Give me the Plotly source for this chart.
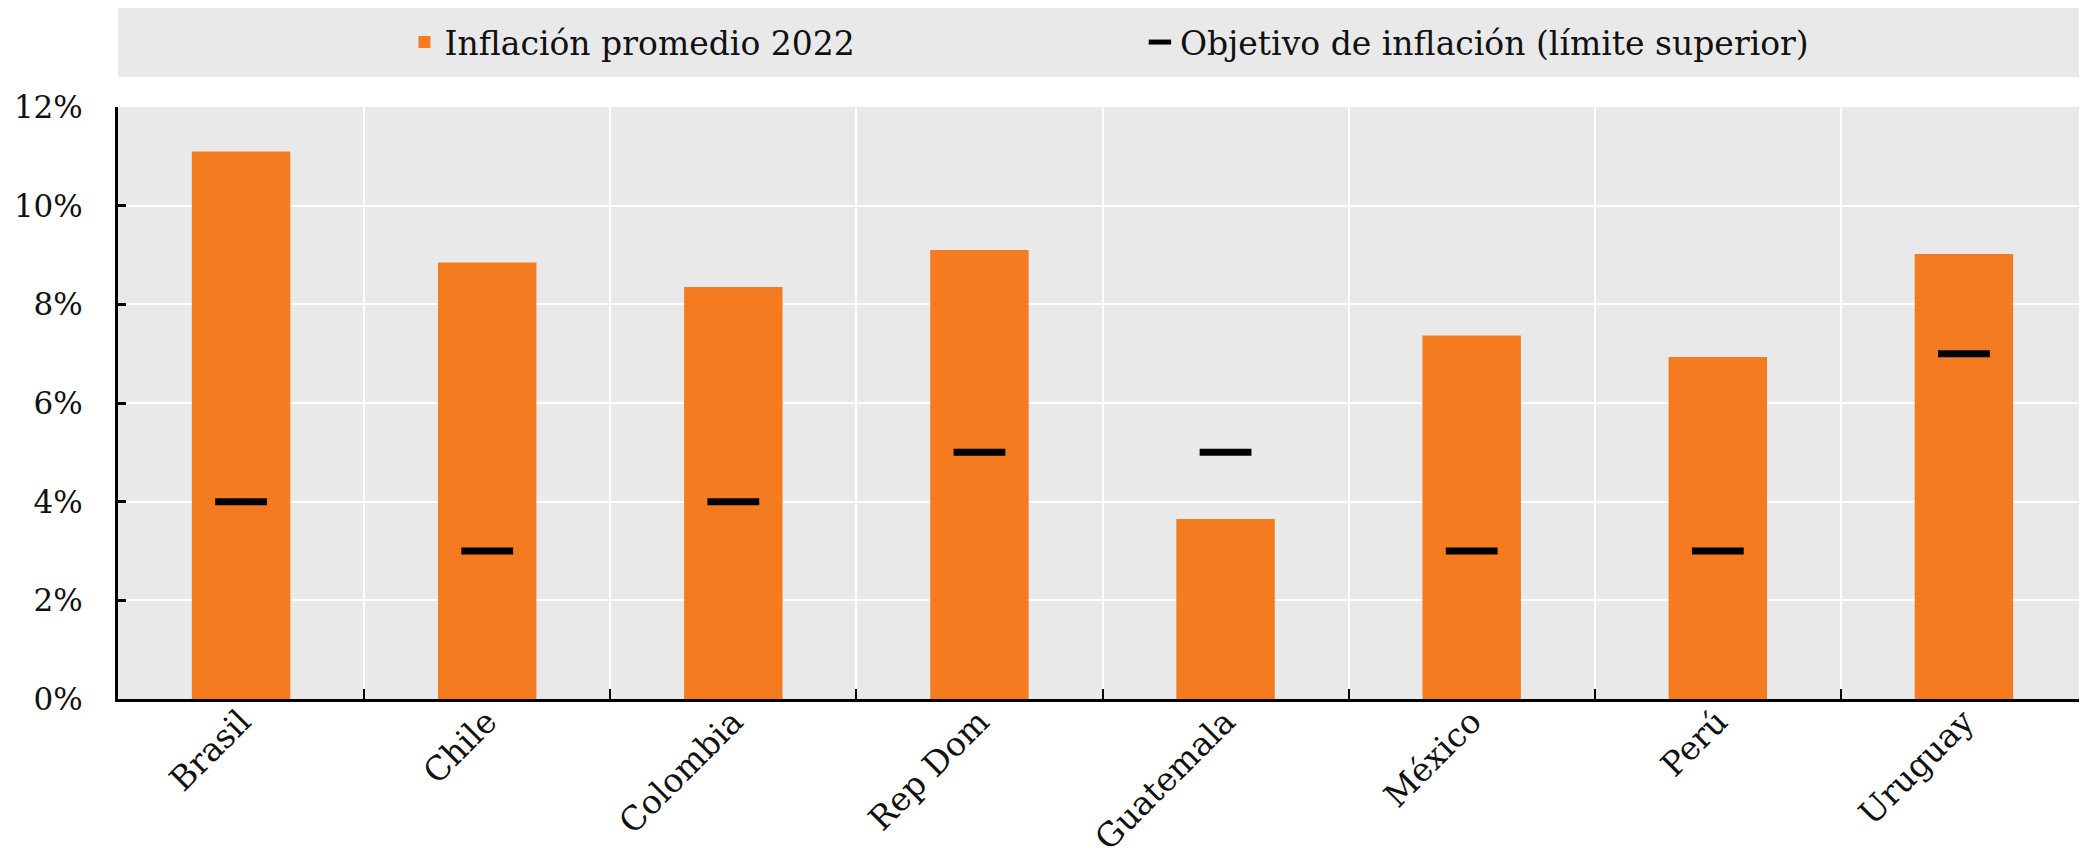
import plotly.graph_objects as go

countries = ["Brasil", "Chile", "Colombia", "Rep Dom", "Guatemala", "México", "Perú", "Uruguay"]
inflation_2022 = [11.1, 8.85, 8.35, 9.1, 3.65, 7.37, 6.93, 9.02]
target_upper = [4, 3, 4, 5, 5, 3, 3, 7]
y_ticks = [0, 2, 4, 6, 8, 10, 12]
y_tick_labels = ["0%", "2%", "4%", "6%", "8%", "10%", "12%"]

ORANGE = "#F47B20"
GRAY = "#E9E9E9"
FONT = "DejaVu Serif"

fig = go.Figure()
fig.add_trace(go.Bar(
    x=countries, y=inflation_2022, name="Inflación promedio 2022",
    marker=dict(color=ORANGE, line=dict(width=0)), width=0.4, legend="legend",
))
fig.add_trace(go.Scatter(
    x=countries, y=target_upper, mode="markers", name="Objetivo de inflación (límite superior)",
    marker=dict(symbol="line-ew", size=37, color="black", line=dict(color="black", width=7)),
    legend="legend2",
))

fig.update_layout(
    width=2079, height=852,
    margin=dict(l=110, r=0, t=99, b=161, autoexpand=False),
    paper_bgcolor="white", plot_bgcolor=GRAY,
    font=dict(family=FONT, size=30, color="#111111"),
    showlegend=True,
    legend=dict(orientation="h", x=0.1455, xanchor="left", y=1.1096, yanchor="middle",
                bgcolor="rgba(0,0,0,0)", font=dict(family=FONT, size=33, color="#111111")),
    legend2=dict(orientation="h", x=0.519, xanchor="left", y=1.1096, yanchor="middle",
                 bgcolor="rgba(0,0,0,0)", font=dict(family=FONT, size=33, color="#111111")),
    shapes=[dict(type="rect", xref="paper", yref="paper", x0=0, x1=1, y0=1.0507, y1=1.17,
                 fillcolor=GRAY, line=dict(width=0), layer="below")],
    bargap=0.6,
)
fig.update_xaxes(
    type="category", tickson="boundaries", showgrid=True, gridcolor="white", gridwidth=2,
    showline=True, linecolor="black", linewidth=3, ticks="inside", ticklen=10, tickwidth=2,
    tickcolor="black", tickangle=-45, tickfont=dict(family=FONT, size=33), automargin=False,
    ticklabelstandoff=-13,
)
fig.update_yaxes(
    range=[0, 12], tickmode="array", tickvals=y_ticks, ticktext=y_tick_labels,
    showgrid=True, gridcolor="white", gridwidth=2,
    showline=True, linecolor="black", linewidth=3, ticks="inside", ticklen=8, tickwidth=3,
    tickcolor="black", zeroline=False, tickfont=dict(family=FONT, size=31), ticklabelstandoff=26,
    automargin=False,
)

fig.write_html("out.html")
